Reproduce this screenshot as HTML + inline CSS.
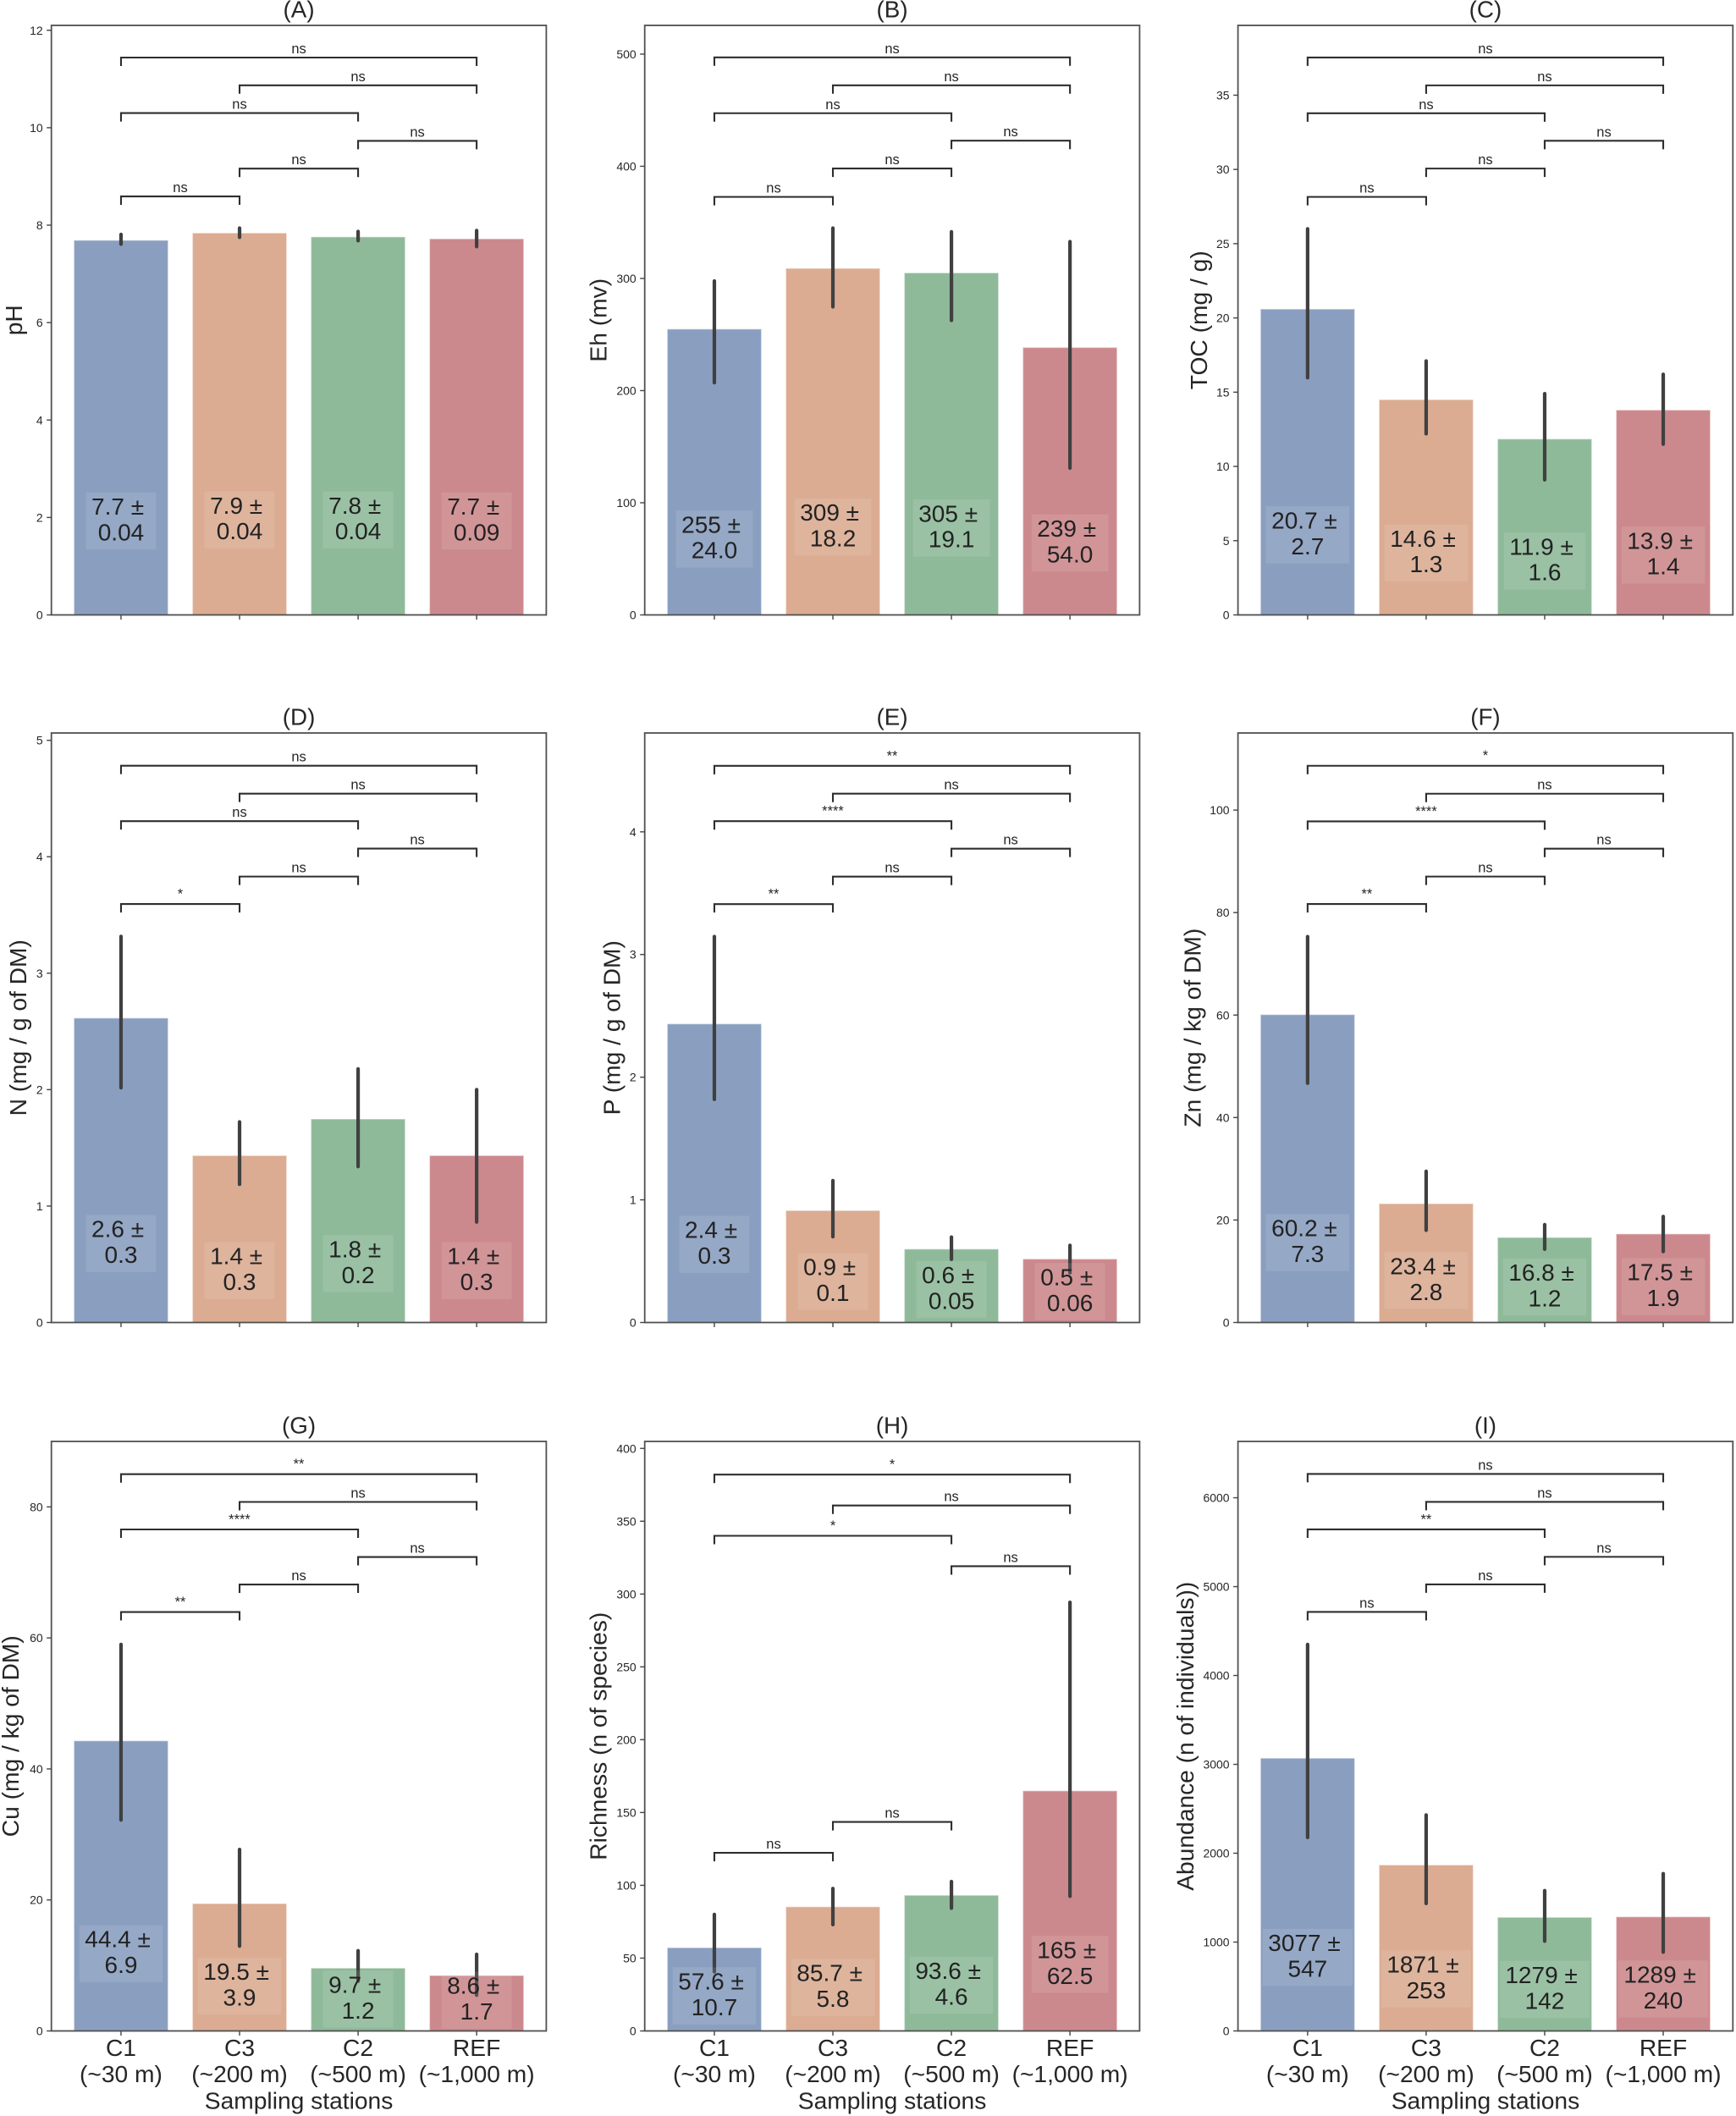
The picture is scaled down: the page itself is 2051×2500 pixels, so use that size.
<!DOCTYPE html>
<html lang="en">
<head>
<meta charset="utf-8">
<title>Sediment and macrofauna variables by sampling station</title>
<style>
html,body{margin:0;padding:0;background:#fff;}
svg{display:block;font-family:"Liberation Sans",Arial,sans-serif;}
</style>
</head>
<body>
<svg id="figure" xmlns="http://www.w3.org/2000/svg" width="2051" height="2500" viewBox="0 0 2051 2500"></svg>
<script>
// ---- shared categories ----
const stations = ["C1", "C3", "C2", "REF"];
const distances = ["(~30 m)", "(~200 m)", "(~500 m)", "(~1,000 m)"];
const xAxisTitle = "Sampling stations";
const barColors = ["#8a9fc0", "#dbac92", "#8fba9a", "#cc898d"];
const pairStart = [0, 1, 2, 0, 1, 0];
const pairEnd = [1, 2, 3, 2, 3, 3];

// ---- panel A ----
const valuesA = [7.69, 7.84, 7.76, 7.72];
const lowerA = [7.61, 7.75, 7.68, 7.56];
const upperA = [7.81, 7.94, 7.87, 7.89];
const textA = [["7.7 ±", "0.04"], ["7.9 ±", "0.04"], ["7.8 ±", "0.04"], ["7.7 ±", "0.09"]];
const labelYA = [1.93, 1.95, 1.95, 1.93];
const ticksA = [0, 2, 4, 6, 8, 10, 12];
const bracketYA = [8.59, 9.16, 9.73, 10.3, 10.87, 11.44];
const starsA = ["ns", "ns", "ns", "ns", "ns", "ns"];

// ---- panel B ----
const valuesB = [254.9, 309, 305, 238.5];
const lowerB = [207, 274.7, 262.6, 130.9];
const upperB = [297.7, 344.9, 341.6, 332.8];
const textB = [["255 ±", "24.0"], ["309 ±", "18.2"], ["305 ±", "19.1"], ["239 ±", "54.0"]];
const labelYB = [67.7, 78.3, 77.5, 64.2];
const ticksB = [0, 100, 200, 300, 400, 500];
const bracketYB = [372.7, 398, 422.8, 447.3, 472.2, 497.1];
const starsB = ["ns", "ns", "ns", "ns", "ns", "ns"];

// ---- panel C ----
const valuesC = [20.6, 14.5, 11.85, 13.8];
const lowerC = [15.97, 12.2, 9.1, 11.5];
const upperC = [26.0, 17.1, 14.9, 16.2];
const textC = [["20.7 ±", "2.7"], ["14.6 ±", "1.3"], ["11.9 ±", "1.6"], ["13.9 ±", "1.4"]];
const labelYC = [5.39, 4.17, 3.63, 4.03];
const ticksC = [0, 5, 10, 15, 20, 25, 30, 35];
const bracketYC = [28.15, 30.06, 31.93, 33.78, 35.66, 37.54];
const starsC = ["ns", "ns", "ns", "ns", "ns", "ns"];

// ---- panel D ----
const valuesD = [2.615, 1.434, 1.748, 1.434];
const lowerD = [2.016, 1.187, 1.339, 0.863];
const upperD = [3.316, 1.723, 2.178, 2.0];
const textD = [["2.6 ±", "0.3"], ["1.4 ±", "0.3"], ["1.8 ±", "0.2"], ["1.4 ±", "0.3"]];
const labelYD = [0.678, 0.446, 0.506, 0.446];
const ticksD = [0, 1, 2, 3, 4, 5];
const bracketYD = [3.594, 3.83, 4.07, 4.306, 4.542, 4.782];
const starsD = ["*", "ns", "ns", "ns", "ns", "ns"];

// ---- panel E ----
const valuesE = [2.435, 0.913, 0.599, 0.518];
const lowerE = [1.819, 0.699, 0.515, 0.405];
const upperE = [3.147, 1.157, 0.696, 0.629];
const textE = [["2.4 ±", "0.3"], ["0.9 ±", "0.1"], ["0.6 ±", "0.05"], ["0.5 ±", "0.06"]];
const labelYE = [0.637, 0.334, 0.269, 0.2525];
const ticksE = [0, 1, 2, 3, 4];
const bracketYE = [3.411, 3.635, 3.863, 4.087, 4.311, 4.538];
const starsE = ["**", "ns", "ns", "****", "ns", "**"];

// ---- panel F ----
const valuesF = [60.1, 23.2, 16.6, 17.3];
const lowerF = [46.7, 18.0, 14.3, 13.85];
const upperF = [75.3, 29.5, 19.1, 20.7];
const textF = [["60.2 ±", "7.3"], ["23.4 ±", "2.8"], ["16.8 ±", "1.2"], ["17.5 ±", "1.9"]];
const labelYF = [15.6, 8.2, 6.93, 7.0];
const ticksF = [0, 20, 40, 60, 80, 100];
const bracketYF = [81.67, 87.03, 92.47, 97.8, 103.2, 108.65];
const starsF = ["**", "ns", "ns", "****", "ns", "*"];

// ---- panel G ----
const valuesG = [44.3, 19.45, 9.6, 8.47];
const lowerG = [32.2, 12.95, 7.6, 5.46];
const upperG = [59, 27.7, 12.25, 11.7];
const textG = [["44.4 ±", "6.9"], ["19.5 ±", "3.9"], ["9.7 ±", "1.2"], ["8.6 ±", "1.7"]];
const labelYG = [11.8, 6.82, 4.86, 4.7];
const ticksG = [0, 20, 40, 60, 80];
const bracketYG = [63.96, 68.16, 72.36, 76.56, 80.76, 85.0];
const starsG = ["**", "ns", "ns", "****", "ns", "**"];

// ---- panel H ----
const valuesH = [57.2, 85.3, 93.2, 164.9];
const lowerH = [40.6, 73, 84.3, 92.5];
const upperH = [80, 97.8, 102.6, 294.3];
const textH = [["57.6 ±", "10.7"], ["85.7 ±", "5.8"], ["93.6 ±", "4.6"], ["165 ±", "62.5"]];
const labelYH = [24.1, 29.9, 31.4, 45.7];
const ticksH = [0, 50, 100, 150, 200, 250, 300, 350, 400];
const bracketYH = [122.3, 143.5, 319.1, 340, 360.8, 382];
const starsH = ["ns", "ns", "ns", "*", "ns", "*"];

// ---- panel I ----
const valuesI = [3070, 1868, 1279, 1285];
const lowerI = [2177, 1434, 1011, 887];
const upperI = [4349, 2430, 1579, 1770];
const textI = [["3077 ±", "547"], ["1871 ±", "253"], ["1279 ±", "142"], ["1289 ±", "240"]];
const labelYI = [828, 586, 467, 472];
const ticksI = [0, 1000, 2000, 3000, 4000, 5000, 6000];
const bracketYI = [4715, 5025, 5335, 5644, 5954, 6268];
const starsI = ["ns", "ns", "ns", "**", "ns", "ns"];

// ---- panel titles and y axis ----
const panelTitles = ["(A)", "(B)", "(C)", "(D)", "(E)", "(F)", "(G)", "(H)", "(I)"];
const yTitles = ["pH", "Eh (mv)", "TOC (mg / g)", "N (mg / g of DM)", "P (mg / g of DM)", "Zn (mg / kg of DM)", "Cu (mg / kg of DM)", "Richness (n of species)", "Abundance (n of individuals))"];
const yMaxima = [12.1, 525.6, 39.7, 5.063, 4.806, 115.05, 90.0, 404.8, 6634];

const allValues = [valuesA, valuesB, valuesC, valuesD, valuesE, valuesF, valuesG, valuesH, valuesI];
const allLower = [lowerA, lowerB, lowerC, lowerD, lowerE, lowerF, lowerG, lowerH, lowerI];
const allUpper = [upperA, upperB, upperC, upperD, upperE, upperF, upperG, upperH, upperI];
const allText = [textA, textB, textC, textD, textE, textF, textG, textH, textI];
const allLabelY = [labelYA, labelYB, labelYC, labelYD, labelYE, labelYF, labelYG, labelYH, labelYI];
const allTicks = [ticksA, ticksB, ticksC, ticksD, ticksE, ticksF, ticksG, ticksH, ticksI];
const allBracketY = [bracketYA, bracketYB, bracketYC, bracketYD, bracketYE, bracketYF, bracketYG, bracketYH, bracketYI];
const allStars = [starsA, starsB, starsC, starsD, starsE, starsF, starsG, starsH, starsI];

// ---- layout (not data) ----
const NS = "http://www.w3.org/2000/svg";
const LAYOUT = {
  lefts: [60.7, 761.7, 1462.6],
  tops: [30, 866, 1703],
  width: 584.7,
  height: 696.5,
  xMin: -0.5875,
  xMax: 3.5875,
  barWidth: 0.795,
  yTitleBaselines: [26, 716.5, 1425.8, 31, 732.5, 1418.5, 22, 716.5, 1410]
};
const INK = "#262626";
const svg = document.getElementById("figure");

function make(tag, attrs, parent) {
  const node = document.createElementNS(NS, tag);
  for (const key in attrs) node.setAttribute(key, attrs[key]);
  parent.appendChild(node);
  return node;
}

function drawPanel(p) {
  const left = LAYOUT.lefts[p % 3];
  const top = LAYOUT.tops[Math.floor(p / 3)];
  const w = LAYOUT.width;
  const h = LAYOUT.height;
  const bottom = top + h;
  const xScale = v => left + (v - LAYOUT.xMin) / (LAYOUT.xMax - LAYOUT.xMin) * w;
  const yScale = v => bottom - v / yMaxima[p] * h;
  const letter = panelTitles[p].charAt(1).toLowerCase();
  const isBottomRow = p >= 6;

  const group = make("g", {}, svg);
  
  

  // title
  const title = make("text", {x: left + w / 2, y: top - 9.5, "text-anchor": "middle", "font-size": 27.8, fill: INK}, group);
  title.textContent = panelTitles[p];
  
  

  // bars
  stations.forEach((station, i) => {
    const barX = xScale(i - LAYOUT.barWidth / 2);
    const barW = xScale(i + LAYOUT.barWidth / 2) - barX;
    const barTop = yScale(allValues[p][i]);
    const bar = make("rect", {x: barX, y: barTop, width: barW, height: bottom - barTop, fill: barColors[i], stroke: "rgba(255,255,255,0.45)", "stroke-width": 1.4}, group);
    
    
  });

  // error bars
  stations.forEach((station, i) => {
    const err = make("line", {x1: xScale(i), x2: xScale(i), y1: yScale(allLower[p][i]), y2: yScale(allUpper[p][i]), stroke: "#404040", "stroke-width": 4.2, "stroke-linecap": "round"}, group);
    
    
  });

  // value labels
  const fontSize = 28;
  const spaceWidth = 0.278 * fontSize;
  stations.forEach((station, i) => {
    const cx = xScale(i);
    const cy = yScale(allLabelY[p][i]);
    const lines = allText[p][i];
    const box = make("rect", {y: cy - 33.7, height: 67.4, fill: "#ffffff", "fill-opacity": 0.1}, group);
    
    
    const first = make("text", {x: cx - spaceWidth / 2, y: cy - 7.5, "text-anchor": "middle", "font-size": fontSize, fill: "#222222"}, group);
    first.textContent = lines[0];
    
    
    const second = make("text", {x: cx, y: cy + 22.9, "text-anchor": "middle", "font-size": fontSize, fill: "#222222"}, group);
    second.textContent = lines[1];
    
    
    const boxW = Math.max(first.getComputedTextLength() + spaceWidth, second.getComputedTextLength()) + 13;
    box.setAttribute("x", cx - boxW / 2);
    box.setAttribute("width", boxW);
  });

  // significance brackets
  allBracketY[p].forEach((value, k) => {
    const x1 = xScale(pairStart[k]);
    const x2 = xScale(pairEnd[k]);
    const y = yScale(value);
    const path = make("path", {d: "M" + x1 + " " + (y + 10) + "V" + y + "H" + x2 + "V" + (y + 10), fill: "none", stroke: "#2e2e2e", "stroke-width": 2.1}, group);
    
    
    const isStars = allStars[p][k] !== "ns";
    const label = make("text", {x: (x1 + x2) / 2, y: y - (isStars ? 6.5 : 5), "text-anchor": "middle", "font-size": 16.5, fill: INK}, group);
    label.textContent = allStars[p][k];
    
    
  });

  // axes frame
  const frame = make("rect", {x: left, y: top, width: w, height: h, fill: "none", stroke: "#505050", "stroke-width": 1.8}, group);
  
  

  // y ticks
  allTicks[p].forEach(value => {
    const y = yScale(value);
    const tick = make("line", {x1: left - 5.5, x2: left, y1: y, y2: y, stroke: "#444444", "stroke-width": 1.4}, group);
    
    
    const tickLabel = make("text", {x: left - 10, y: y + 5, "text-anchor": "end", "font-size": 14, fill: INK}, group);
    tickLabel.textContent = String(value);
    
    
  });

  // x ticks and labels
  stations.forEach((station, i) => {
    const x = xScale(i);
    const tick = make("line", {x1: x, x2: x, y1: bottom, y2: bottom + 5.5, stroke: "#444444", "stroke-width": 1.4}, group);
    
    
    if (isBottomRow) {
      const name = make("text", {x: x, y: bottom + 29.5, "text-anchor": "middle", "font-size": 28.2, fill: INK}, group);
      name.textContent = station;
      
      
      const dist = make("text", {x: x, y: bottom + 60.5, "text-anchor": "middle", "font-size": 28.2, fill: INK}, group);
      dist.textContent = distances[i];
      
      
    }
  });

  // axis titles
  if (isBottomRow) {
    const xTitle = make("text", {x: left + w / 2, y: bottom + 92, "text-anchor": "middle", "font-size": 28.2, fill: INK}, group);
    xTitle.textContent = xAxisTitle;
    
    
  }
  const baseX = LAYOUT.yTitleBaselines[p];
  const midY = top + h / 2;
  const yTitle = make("text", {x: baseX, y: midY, "text-anchor": "middle", "font-size": 28.2, fill: INK, transform: "rotate(-90 " + baseX + " " + midY + ")"}, group);
  yTitle.textContent = yTitles[p];
  
  
}

panelTitles.forEach((t, p) => drawPanel(p));
</script>
</body>
</html>
